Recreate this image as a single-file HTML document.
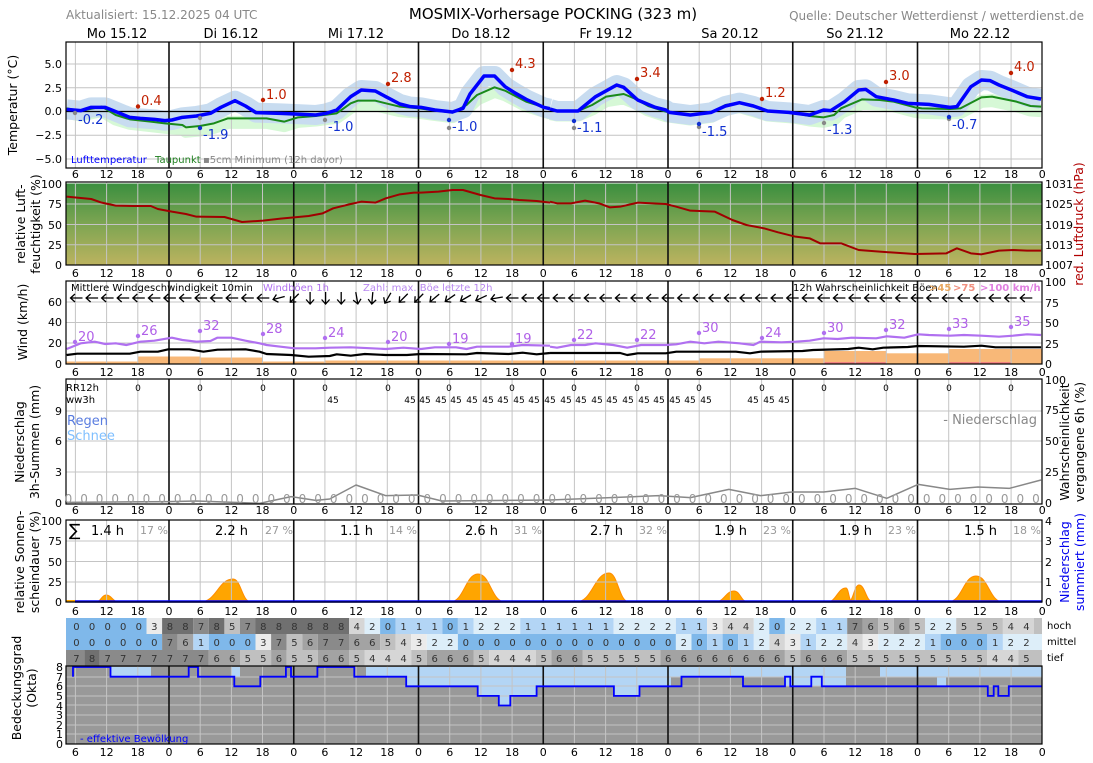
<!DOCTYPE html>
<html><head><meta charset="utf-8"><style>
html,body{margin:0;padding:0;background:#fff;}
svg{display:block;font-family:"DejaVu Sans","Liberation Sans",sans-serif;}
.t{font-size:11px;fill:#000;text-anchor:middle}
.l{font-size:11px;fill:#000;text-anchor:end}
.r{font-size:11px;fill:#000;text-anchor:start}
.ax{font-size:12.5px;fill:#000;text-anchor:middle}
.n{vector-effect:non-scaling-stroke;fill:none;stroke-linejoin:round}
</style></head><body>
<svg width="1093" height="763" viewBox="0 0 1093 763" xmlns="http://www.w3.org/2000/svg">
<defs>
<linearGradient id="hg" x1="0" y1="0" x2="0" y2="1"><stop offset="0" stop-color="#3b8f3f"/><stop offset="0.5" stop-color="#7ea552"/><stop offset="1" stop-color="#bcb35f"/></linearGradient>
<clipPath id="cT"><rect x="66" y="42" width="976" height="126"/></clipPath>
<path id="ar" d="M6,0L-6,0M-1.5,-4L-6,0L-1.5,4" fill="none" stroke="#000" stroke-width="1.3"/>
<g id="tk">
<text x="75.4">6</text><text x="106.6">12</text><text x="137.8">18</text><text x="169">0</text><text x="200.2">6</text><text x="231.4">12</text><text x="262.5">18</text><text x="293.7">0</text><text x="324.9">6</text><text x="356.1">12</text><text x="387.3">18</text><text x="418.5">0</text><text x="449.7">6</text><text x="480.9">12</text><text x="512.1">18</text><text x="543.3">0</text><text x="574.4">6</text><text x="605.6">12</text><text x="636.8">18</text><text x="668">0</text><text x="699.2">6</text><text x="730.4">12</text><text x="761.6">18</text><text x="792.8">0</text><text x="824">6</text><text x="855.2">12</text><text x="886.3">18</text><text x="917.5">0</text><text x="948.7">6</text><text x="979.9">12</text><text x="1011.1">18</text><text x="1042.3">0</text>
</g>
</defs>

<rect x="66" y="183.5" width="976" height="81.5" fill="url(#hg)"/>
<rect x="66" y="666" width="976" height="78" fill="#999"/>
<g fill="#b3d5f5">
<rect x="111" y="667" width="40" height="9.7"/>
<rect x="231" y="667" width="9" height="9.7"/>
<path d="M366,667V676.7H406.2V686.3H477.7V695.9H498.8V705.5H510.3V695.9H536.6V686.3H613.9V695.9H639.5V686.3H671V667Z"/>
<rect x="671" y="667" width="114" height="9.7"/>
<rect x="785" y="667" width="61" height="19.3"/>
<rect x="880" y="667" width="162" height="9.7"/>
<rect x="937" y="667" width="9" height="19.3"/>
</g>
<g clip-path="url(#cT)">
<g transform="translate(0,4)">
<path class="n" stroke="#d6f8d6" stroke-width="13" transform="scale(0.35075,0.33333)" d="M190,325L230,333L290,320L330,345L370,358L430,365L470,370L520,375L530,382L570,378L610,370L650,355L700,355L760,355L810,365L850,352L900,348L960,340L1000,310L1020,302L1070,302L1100,310L1140,320L1195,325L1230,330L1290,338L1330,315L1360,285L1410,262L1440,272L1500,305L1568,327"/>
<path class="n" stroke="#d6f8d6" stroke-width="13" transform="translate(543,0) scale(0.35075,0.33333)" d="M20,329L40,333L100,333L140,315L180,290L230,282L260,295L300,318L350,335L420,345L480,337L520,315L560,308L600,320L640,333L720,340L760,348L800,352L830,345L850,325L910,298L960,300L1000,305L1060,322L1080,325L1160,327L1190,325L1250,292L1280,290L1350,305L1390,318L1420,320"/>
</g>
<path class="n" stroke="#c8dcf0" stroke-width="20" transform="scale(0.35075,0.33333)" d="M190,328L230,332L260,322L300,322L330,335L370,352L400,355L440,358L470,362L490,360L520,352L560,348L600,340L630,322L670,302L700,318L730,338L800,340L840,342L900,345L930,340L960,330L1000,290L1030,270L1070,273L1100,290L1140,312L1170,320L1200,322L1240,330L1290,336L1320,325L1340,282L1380,228L1410,228L1440,260L1470,280L1500,298L1550,322L1568,326"/>
<path class="n" stroke="#c8dcf0" stroke-width="20" transform="translate(543,0) scale(0.35075,0.33333)" d="M20,327L40,333L100,333L150,290L210,255L230,262L270,300L320,322L350,330L360,337L420,345L480,337L520,318L560,308L600,318L640,333L700,337L760,345L800,330L820,332L860,305L900,270L920,268L950,290L1000,300L1040,310L1100,313L1160,322L1180,320L1220,260L1250,240L1275,242L1300,255L1340,272L1380,290L1420,297"/>
</g>
<g fill="#ffa500" stroke="#ff8c00" stroke-width="1">
<path d="M96,602C101,602 101.5,595 106,595C111.9,595 112.5,602 119,602Z"/>
<path d="M200,602C216.5,602 218.2,579 233,579C241.1,579 242,602 251,602Z"/>
<path d="M450,602C464,602 465.4,574 478,574C490.4,574 491.5,602 505,602Z"/>
<path d="M576,602C592.5,602 594.2,573 609,573C618,573 619,602 629,602Z"/>
<path d="M715,602C724.5,602 725.5,591 734,591C740.3,591 741,602 748,602Z"/>
<path d="M827,602C836.5,602 837.5,588 846,588C848.7,588 849,602 852,602Z"/>
<path d="M848,602C853.5,602 854,585 859,585C865.3,585 866,602 873,602Z"/>
<path d="M948,602C962,602 963.4,576 976,576C988.4,576 989.5,602 1003,602Z"/>
</g>
<g fill="#f8b878">
<rect x="66" y="361.5" width="72" height="2.5"/><rect x="138" y="356.5" width="62" height="7.5"/><rect x="200" y="357.5" width="63" height="6.5"/><rect x="263" y="361.5" width="62" height="2.5"/><rect x="325" y="360.5" width="374" height="3.5"/><rect x="699" y="358.3" width="125" height="5.7"/><rect x="824" y="351" width="62" height="13"/><rect x="886" y="353.3" width="63" height="10.7"/><rect x="949" y="349" width="93" height="15"/>
</g>
<rect x="824" y="362" width="62" height="2" fill="#f08080"/><rect x="949" y="362" width="62" height="2" fill="#f08080"/>

<path stroke="#c4c4c4" stroke-width="1" fill="none" d="M75.4,42V744M106.6,42V744M137.8,42V744M200.2,42V744M231.4,42V744M262.5,42V744M324.9,42V744M356.1,42V744M387.3,42V744M449.7,42V744M480.9,42V744M512.1,42V744M574.4,42V744M605.6,42V744M636.8,42V744M699.2,42V744M730.4,42V744M761.6,42V744M824,42V744M855.2,42V744M886.3,42V744M948.7,42V744M979.9,42V744M1011.1,42V744
M66,64H1042M66,87.75H1042M66,135.25H1042M66,159H1042M66,204H1042M66,224.5H1042M66,244.75H1042M66,302H1042M66,322.5H1042M66,343H1042M66,411H1042M66,441H1042M66,472H1042M66,541H1042M66,561.5H1042M66,582H1042M66,677H1042M66,686H1042M66,696H1042M66,705H1042M66,715H1042M66,725H1042M66,734H1042"/>
<path stroke="#111" stroke-width="1.6" fill="none" d="M169,42V744M293.75,42V744M418.5,42V744M543.25,42V744M668,42V744M792.75,42V744M917.5,42V744"/>
<path stroke="#000" stroke-width="1.2" d="M66,111.5H1042"/>
<g fill="#fff">
<rect x="60" y="168.6" width="990" height="13.2"/><rect x="60" y="265.6" width="990" height="15"/><rect x="60" y="364.6" width="990" height="14"/><rect x="60" y="504.6" width="990" height="15"/><rect x="60" y="602.6" width="990" height="15.4"/>
</g>
<g>
<rect x="66" y="618" width="80.6" height="16.2" fill="#7fb8ea"/><rect x="146.6" y="618" width="15.5" height="16.2" fill="#ebebeb"/><rect x="162.1" y="618" width="31.2" height="16.2" fill="#707070"/><rect x="193.3" y="618" width="15.5" height="16.2" fill="#8a8a8a"/><rect x="208.8" y="618" width="15.6" height="16.2" fill="#707070"/><rect x="224.4" y="618" width="15.6" height="16.2" fill="#c0c0c0"/><rect x="240" y="618" width="15.5" height="16.2" fill="#8a8a8a"/><rect x="255.5" y="618" width="93.5" height="16.2" fill="#707070"/><rect x="349" y="618" width="15.5" height="16.2" fill="#d6d6d6"/><rect x="364.5" y="618" width="15.6" height="16.2" fill="#ddeef9"/><rect x="380.1" y="618" width="15.6" height="16.2" fill="#7fb8ea"/><rect x="395.7" y="618" width="46.7" height="16.2" fill="#b3d5f5"/><rect x="442.4" y="618" width="15.5" height="16.2" fill="#7fb8ea"/><rect x="457.9" y="618" width="15.6" height="16.2" fill="#b3d5f5"/><rect x="473.5" y="618" width="46.7" height="16.2" fill="#ddeef9"/><rect x="520.2" y="618" width="93.4" height="16.2" fill="#b3d5f5"/><rect x="613.6" y="618" width="62.3" height="16.2" fill="#ddeef9"/><rect x="675.9" y="618" width="31.2" height="16.2" fill="#b3d5f5"/><rect x="707.1" y="618" width="15.5" height="16.2" fill="#ebebeb"/><rect x="722.6" y="618" width="31.2" height="16.2" fill="#d6d6d6"/><rect x="753.8" y="618" width="15.5" height="16.2" fill="#ddeef9"/><rect x="769.3" y="618" width="15.6" height="16.2" fill="#7fb8ea"/><rect x="784.9" y="618" width="31.2" height="16.2" fill="#ddeef9"/><rect x="816.1" y="618" width="31.1" height="16.2" fill="#b3d5f5"/><rect x="847.2" y="618" width="15.6" height="16.2" fill="#8a8a8a"/><rect x="862.8" y="618" width="15.5" height="16.2" fill="#a3a3a3"/><rect x="878.3" y="618" width="15.6" height="16.2" fill="#c0c0c0"/><rect x="893.9" y="618" width="15.6" height="16.2" fill="#a3a3a3"/><rect x="909.5" y="618" width="15.5" height="16.2" fill="#c0c0c0"/><rect x="925" y="618" width="31.2" height="16.2" fill="#ddeef9"/><rect x="956.2" y="618" width="46.7" height="16.2" fill="#c0c0c0"/><rect x="1002.9" y="618" width="31.1" height="16.2" fill="#d6d6d6"/><rect x="1034" y="618" width="8" height="16.2" fill="#c0c0c0"/>

<rect x="66" y="634" width="96.1" height="16.2" fill="#7fb8ea"/><rect x="162.1" y="634" width="15.6" height="16.2" fill="#8a8a8a"/><rect x="177.7" y="634" width="15.6" height="16.2" fill="#a3a3a3"/><rect x="193.3" y="634" width="15.5" height="16.2" fill="#b3d5f5"/><rect x="208.8" y="634" width="46.7" height="16.2" fill="#7fb8ea"/><rect x="255.5" y="634" width="15.6" height="16.2" fill="#ebebeb"/><rect x="271.1" y="634" width="15.6" height="16.2" fill="#8a8a8a"/><rect x="286.7" y="634" width="15.6" height="16.2" fill="#c0c0c0"/><rect x="302.3" y="634" width="15.5" height="16.2" fill="#a3a3a3"/><rect x="317.8" y="634" width="31.2" height="16.2" fill="#8a8a8a"/><rect x="349" y="634" width="31.1" height="16.2" fill="#a3a3a3"/><rect x="380.1" y="634" width="15.6" height="16.2" fill="#c0c0c0"/><rect x="395.7" y="634" width="15.5" height="16.2" fill="#d6d6d6"/><rect x="411.2" y="634" width="15.6" height="16.2" fill="#ebebeb"/><rect x="426.8" y="634" width="31.1" height="16.2" fill="#ddeef9"/><rect x="457.9" y="634" width="218" height="16.2" fill="#7fb8ea"/><rect x="675.9" y="634" width="15.6" height="16.2" fill="#ddeef9"/><rect x="691.5" y="634" width="15.6" height="16.2" fill="#7fb8ea"/><rect x="707.1" y="634" width="15.5" height="16.2" fill="#b3d5f5"/><rect x="722.6" y="634" width="15.6" height="16.2" fill="#7fb8ea"/><rect x="738.2" y="634" width="15.6" height="16.2" fill="#b3d5f5"/><rect x="753.8" y="634" width="15.5" height="16.2" fill="#ddeef9"/><rect x="769.3" y="634" width="15.6" height="16.2" fill="#d6d6d6"/><rect x="784.9" y="634" width="15.6" height="16.2" fill="#ebebeb"/><rect x="800.5" y="634" width="15.6" height="16.2" fill="#b3d5f5"/><rect x="816.1" y="634" width="31.1" height="16.2" fill="#ddeef9"/><rect x="847.2" y="634" width="15.6" height="16.2" fill="#d6d6d6"/><rect x="862.8" y="634" width="15.5" height="16.2" fill="#ebebeb"/><rect x="878.3" y="634" width="46.7" height="16.2" fill="#ddeef9"/><rect x="925" y="634" width="15.6" height="16.2" fill="#b3d5f5"/><rect x="940.6" y="634" width="46.7" height="16.2" fill="#7fb8ea"/><rect x="987.3" y="634" width="15.6" height="16.2" fill="#b3d5f5"/><rect x="1002.9" y="634" width="39.1" height="16.2" fill="#ddeef9"/>

<rect x="66" y="650" width="18.3" height="16" fill="#8a8a8a"/><rect x="84.3" y="650" width="15.5" height="16" fill="#707070"/><rect x="99.8" y="650" width="109" height="16" fill="#8a8a8a"/><rect x="208.8" y="650" width="31.2" height="16" fill="#a3a3a3"/><rect x="240" y="650" width="31.1" height="16" fill="#c0c0c0"/><rect x="271.1" y="650" width="15.6" height="16" fill="#a3a3a3"/><rect x="286.7" y="650" width="31.1" height="16" fill="#c0c0c0"/><rect x="317.8" y="650" width="31.2" height="16" fill="#a3a3a3"/><rect x="349" y="650" width="15.5" height="16" fill="#c0c0c0"/><rect x="364.5" y="650" width="46.7" height="16" fill="#d6d6d6"/><rect x="411.2" y="650" width="15.6" height="16" fill="#c0c0c0"/><rect x="426.8" y="650" width="46.7" height="16" fill="#a3a3a3"/><rect x="473.5" y="650" width="15.6" height="16" fill="#c0c0c0"/><rect x="489.1" y="650" width="46.7" height="16" fill="#d6d6d6"/><rect x="535.8" y="650" width="15.6" height="16" fill="#c0c0c0"/><rect x="551.4" y="650" width="31.1" height="16" fill="#a3a3a3"/><rect x="582.5" y="650" width="77.9" height="16" fill="#c0c0c0"/><rect x="660.4" y="650" width="124.5" height="16" fill="#a3a3a3"/><rect x="784.9" y="650" width="15.6" height="16" fill="#c0c0c0"/><rect x="800.5" y="650" width="46.7" height="16" fill="#a3a3a3"/><rect x="847.2" y="650" width="140.1" height="16" fill="#c0c0c0"/><rect x="987.3" y="650" width="31.2" height="16" fill="#d6d6d6"/><rect x="1018.5" y="650" width="23.5" height="16" fill="#c0c0c0"/>
</g>
<path stroke="#000" stroke-width="1" d="M66,666H1042"/>

<g clip-path="url(#cT)">
<path class="n" stroke="#1a8a1a" stroke-width="2" transform="scale(0.35075,0.33333)" d="M190,325L230,333L290,320L330,345L370,358L430,365L470,370L520,375L530,382L570,378L610,370L650,355L700,355L760,355L810,365L850,352L900,348L960,340L1000,310L1020,302L1070,302L1100,310L1140,320L1195,325L1230,330L1290,338L1330,315L1360,285L1410,262L1440,272L1500,305L1568,327"/>
<path class="n" stroke="#1a8a1a" stroke-width="2" transform="translate(543,0) scale(0.35075,0.33333)" d="M20,329L40,333L100,333L140,315L180,290L230,282L260,295L300,318L350,335L420,345L480,337L520,315L560,308L600,320L640,333L720,340L760,348L800,352L830,345L850,325L910,298L960,300L1000,305L1060,322L1080,325L1160,327L1190,325L1250,292L1280,290L1350,305L1390,318L1420,320"/>
<path class="n" stroke="#0000ff" stroke-width="3.5" transform="scale(0.35075,0.33333)" d="M190,328L230,332L260,322L300,322L330,335L370,352L400,355L440,358L470,362L490,360L520,352L560,348L600,340L630,322L670,302L700,318L730,338L800,340L840,342L900,345L930,340L960,330L1000,290L1030,270L1070,273L1100,290L1140,312L1170,320L1200,322L1240,330L1290,336L1320,325L1340,282L1380,228L1410,228L1440,260L1470,280L1500,298L1550,322L1568,326"/>
<path class="n" stroke="#0000ff" stroke-width="3.5" transform="translate(543,0) scale(0.35075,0.33333)" d="M20,327L40,333L100,333L150,290L210,255L230,262L270,300L320,322L350,330L360,337L420,345L480,337L520,318L560,308L600,318L640,333L700,337L760,345L800,330L820,332L860,305L900,270L920,268L950,290L1000,300L1040,310L1100,313L1160,322L1180,320L1220,260L1250,240L1275,242L1300,255L1340,272L1380,290L1420,297"/>
</g>
<g fill="#c02000"><circle cx="138" cy="106.5" r="2.2"/><circle cx="263" cy="100" r="2.2"/><circle cx="388" cy="84" r="2.2"/><circle cx="512" cy="70" r="2.2"/><circle cx="637" cy="79" r="2.2"/><circle cx="762" cy="99" r="2.2"/><circle cx="886" cy="82" r="2.2"/><circle cx="1011" cy="73" r="2.2"/></g>
<g fill="#888"><circle cx="75" cy="113" r="2.2"/><circle cx="200" cy="118" r="2.2"/><circle cx="325" cy="120" r="2.2"/><circle cx="449" cy="128" r="2.2"/><circle cx="574" cy="128" r="2.2"/><circle cx="699" cy="127" r="2.2"/><circle cx="824" cy="123" r="2.2"/><circle cx="949" cy="119" r="2.2"/></g>
<g fill="#1030d0"><circle cx="200" cy="128" r="2.2"/><circle cx="449" cy="120" r="2.2"/><circle cx="574" cy="121" r="2.2"/><circle cx="699" cy="124" r="2.2"/><circle cx="949" cy="117" r="2.2"/></g>
<path class="n" stroke="#a00000" stroke-width="2" transform="scale(0.35075,0.33333)" d="M190,590L260,597L290,608L330,617L380,618L430,618L450,627L490,635L530,642L560,650L640,651L690,666L750,662L800,656L880,648L920,640L950,625L1000,612L1030,605L1070,608L1100,595L1140,583L1180,578L1200,578L1250,575L1290,570L1320,570L1370,585L1410,595L1450,597L1480,600L1530,603L1568,608"/>
<path class="n" stroke="#a00000" stroke-width="2" transform="translate(543,0) scale(0.35075,0.33333)" d="M20,605L40,610L80,610L120,602L160,610L190,622L220,620L270,608L350,612L380,620L420,632L490,635L540,660L580,675L630,685L670,697L720,710L760,715L790,730L850,730L900,750L960,755L1060,762L1150,760L1180,745L1220,760L1250,763L1300,752L1340,750L1380,752L1420,752"/>
<path class="n" stroke="#b070f0" stroke-width="2.2" transform="translate(0,275) scale(0.35075,0.33333)" d="M190,222L230,205L270,200L300,207L330,205L360,210L400,200L440,197L490,188L520,195L560,200L600,198L620,188L660,188L700,197L740,205L760,210L800,215L840,220L900,220L940,218L1000,217L1060,220L1100,222L1150,218L1200,222L1240,217L1300,217L1330,222L1360,215L1450,215L1490,210L1568,212"/>
<path class="n" stroke="#b070f0" stroke-width="2.2" transform="translate(543,275) scale(0.35075,0.33333)" d="M20,215L40,218L80,210L120,210L150,205L200,210L240,218L280,210L350,210L380,208L420,200L460,205L500,200L560,205L600,210L620,200L680,202L720,200L760,197L800,190L840,192L880,188L950,190L980,184L1030,188L1070,178L1100,180L1160,182L1200,180L1250,182L1300,185L1340,182L1380,178L1420,180"/>
<path class="n" stroke="#000" stroke-width="2.2" transform="translate(0,275) scale(0.35075,0.33333)" d="M190,240L220,236L370,236L400,230L450,230L480,223L540,223L580,230L620,224L700,223L740,230L760,237L830,240L880,245L940,243L960,238L1000,242L1040,237L1100,240L1160,240L1200,237L1330,238L1360,234L1450,237L1490,233L1530,238L1568,234"/>
<path class="n" stroke="#000" stroke-width="2.2" transform="translate(543,275) scale(0.35075,0.33333)" d="M20,234L220,234L240,240L270,235L350,235L380,230L550,230L590,235L620,230L740,228L770,225L870,222L900,218L940,223L970,218L1040,216L1070,213L1200,215L1250,212L1290,217L1420,217"/>
<g fill="#b070f0"><circle cx="75" cy="342" r="2.2"/><circle cx="138" cy="336" r="2.2"/><circle cx="200" cy="331" r="2.2"/><circle cx="263" cy="334" r="2.2"/><circle cx="325" cy="338" r="2.2"/><circle cx="388" cy="342" r="2.2"/><circle cx="449" cy="344" r="2.2"/><circle cx="512" cy="344" r="2.2"/><circle cx="574" cy="340" r="2.2"/><circle cx="637" cy="340" r="2.2"/><circle cx="699" cy="333" r="2.2"/><circle cx="762" cy="338" r="2.2"/><circle cx="824" cy="333" r="2.2"/><circle cx="886" cy="330" r="2.2"/><circle cx="949" cy="329" r="2.2"/><circle cx="1011" cy="327" r="2.2"/></g>
<g>
<use href="#ar" x="76.5" y="298"/><use href="#ar" x="92.1" y="298"/><use href="#ar" x="107.6" y="298"/><use href="#ar" x="123.2" y="298"/><use href="#ar" x="138.8" y="298"/><use href="#ar" x="154.4" y="298"/><use href="#ar" x="169.9" y="298"/><use href="#ar" x="185.5" y="298"/><use href="#ar" x="201.1" y="298"/><use href="#ar" x="216.6" y="298"/><use href="#ar" x="232.2" y="298"/><use href="#ar" x="247.8" y="298"/><use href="#ar" x="263.3" y="298"/>
<use href="#ar" transform="translate(278.9,298) rotate(-15)"/><use href="#ar" transform="translate(294.5,298) rotate(-45)"/><use href="#ar" transform="translate(310.1,298) rotate(-90)"/><use href="#ar" transform="translate(325.6,298) rotate(-90)"/><use href="#ar" transform="translate(341.2,298) rotate(-90)"/><use href="#ar" transform="translate(356.8,298) rotate(-100)"/><use href="#ar" transform="translate(372.3,298) rotate(-85)"/><use href="#ar" transform="translate(387.9,298) rotate(-60)"/><use href="#ar" transform="translate(403.5,298) rotate(-45)"/><use href="#ar" transform="translate(419,298) rotate(-45)"/><use href="#ar" transform="translate(434.6,298) rotate(-40)"/><use href="#ar" transform="translate(450.2,298) rotate(-35)"/><use href="#ar" transform="translate(465.7,298) rotate(-30)"/><use href="#ar" transform="translate(481.3,298) rotate(-25)"/><use href="#ar" transform="translate(496.9,298) rotate(-10)"/>
<use href="#ar" x="512.5" y="298"/><use href="#ar" x="528" y="298"/><use href="#ar" x="543.6" y="298"/><use href="#ar" x="559.2" y="298"/><use href="#ar" x="574.7" y="298"/><use href="#ar" x="590.3" y="298"/><use href="#ar" x="605.9" y="298"/><use href="#ar" x="621.4" y="298"/><use href="#ar" x="637" y="298"/><use href="#ar" x="652.6" y="298"/><use href="#ar" x="668.2" y="298"/><use href="#ar" x="683.7" y="298"/><use href="#ar" x="699.3" y="298"/><use href="#ar" x="714.9" y="298"/><use href="#ar" x="730.4" y="298"/><use href="#ar" x="746" y="298"/><use href="#ar" x="761.6" y="298"/><use href="#ar" x="777.1" y="298"/><use href="#ar" x="792.7" y="298"/><use href="#ar" x="808.3" y="298"/><use href="#ar" x="823.9" y="298"/><use href="#ar" x="839.4" y="298"/><use href="#ar" x="855" y="298"/><use href="#ar" x="870.6" y="298"/><use href="#ar" x="886.1" y="298"/><use href="#ar" x="901.7" y="298"/><use href="#ar" x="917.3" y="298"/><use href="#ar" x="932.8" y="298"/><use href="#ar" x="948.4" y="298"/><use href="#ar" x="964" y="298"/><use href="#ar" x="979.6" y="298"/><use href="#ar" x="995.1" y="298"/><use href="#ar" x="1010.7" y="298"/><use href="#ar" x="1026.3" y="298"/>
</g>
<path class="n" stroke="#888" stroke-width="1.5" transform="translate(0,275) scale(0.35075,0.33333)" d="M190,682L480,680L560,678L740,685L830,665L900,676L940,672L1015,630L1100,662L1190,660L1260,678L1568,675"/>
<path class="n" stroke="#888" stroke-width="1.5" transform="translate(543,275) scale(0.35075,0.33333)" d="M20,675L330,662L420,668L530,643L620,662L710,651L800,651L890,640L980,670L1070,628L1160,643L1240,636L1330,640L1420,615"/>
<path stroke="#0000ff" stroke-width="2.5" d="M75,601.5H1042"/>
<rect x="66" y="600" width="9" height="2" fill="#ffa500"/>
<path fill="none" stroke="#0000ff" stroke-width="1.8" d="M73,676.7V667H110.5V676.7H188.7V667H198V676.7H234.3V686.3H260.3V676.7H285.9V667H291V676.7H317.4V667H354.3V676.7H406.2V686.3H477.7V695.9H498.8V705.5H510.3V695.9H536.6V686.3H613.9V695.9H639.5V686.3H681.5V676.7H743V686.3H785V676.7H790.3V686.3H811.3V676.7H821.8V686.3H987.8V695.9H993.7V686.3H998.3V695.9H1008.8V686.3H1042"/>
<g fill="none" stroke="#000" stroke-width="1.2">
<rect x="66" y="42" width="976" height="126"/><rect x="66" y="182" width="976" height="83"/><rect x="66" y="281" width="976" height="83"/><rect x="66" y="379" width="976" height="125"/><rect x="66" y="520" width="976" height="82"/><rect x="66" y="666" width="976" height="78"/>
</g>

<text x="66" y="19" style="font-size:12px;fill:#888">Aktualisiert: 15.12.2025 04 UTC</text>
<text x="553" y="19" style="font-size:15px;text-anchor:middle">MOSMIX-Vorhersage POCKING (323 m)</text>
<text x="1084" y="20" style="font-size:12px;fill:#888;text-anchor:end">Quelle: Deutscher Wetterdienst / wetterdienst.de</text>
<g class="ax" style="font-size:13px">
<text x="117" y="38">Mo 15.12</text><text x="231" y="38">Di 16.12</text><text x="356" y="38">Mi 17.12</text><text x="481" y="38">Do 18.12</text><text x="606" y="38">Fr 19.12</text><text x="730" y="38">Sa 20.12</text><text x="855" y="38">So 21.12</text><text x="980" y="38">Mo 22.12</text>
</g>
<g class="t"><use href="#tk" y="178"/><use href="#tk" y="277"/><use href="#tk" y="376"/><use href="#tk" y="514"/><use href="#tk" y="615"/><use href="#tk" y="756"/></g>
<g class="l">
<text x="62" y="68">5.0</text><text x="62" y="92">2.5</text><text x="62" y="115">0.0</text><text x="62" y="139">−2.5</text><text x="62" y="163">−5.0</text>
<text x="62" y="188">100</text><text x="62" y="208">75</text><text x="62" y="229">50</text><text x="62" y="249">25</text><text x="62" y="269">0</text>
<text x="62" y="306">60</text><text x="62" y="326">40</text><text x="62" y="347">20</text><text x="62" y="368">0</text>
<text x="62" y="415">9</text><text x="62" y="445">6</text><text x="62" y="476">3</text><text x="62" y="507">0</text>
<text x="62" y="525">100</text><text x="62" y="545">75</text><text x="62" y="566">50</text><text x="62" y="586">25</text><text x="62" y="606">0</text>
<text x="63" y="671">8</text><text x="63" y="681">7</text><text x="63" y="690">6</text><text x="63" y="700">5</text><text x="63" y="710">4</text><text x="63" y="719">3</text><text x="63" y="729">2</text><text x="63" y="738">1</text><text x="63" y="748">0</text>
</g>
<g class="r">
<text x="1045" y="188">1031</text><text x="1045" y="208">1025</text><text x="1045" y="229">1019</text><text x="1045" y="249">1013</text><text x="1045" y="269">1007</text>
<text x="1045" y="286">100</text><text x="1045" y="307">75</text><text x="1045" y="327">50</text><text x="1045" y="348">25</text><text x="1045" y="368">0</text>
<text x="1045" y="384">100</text><text x="1045" y="414">75</text><text x="1045" y="445">50</text><text x="1045" y="476">25</text><text x="1045" y="507">0</text>
<text x="1045" y="525">4</text><text x="1045" y="545">3</text><text x="1045" y="566">2</text><text x="1045" y="586">1</text><text x="1045" y="606">0</text>
<text x="1047" y="629" style="font-size:10px">hoch</text><text x="1047" y="645" style="font-size:10px">mittel</text><text x="1047" y="661" style="font-size:10px">tief</text>
</g>
<g class="ax">
<text transform="translate(17,105) rotate(-90)">Temperatur (°C)</text>
<text transform="translate(25,224) rotate(-90)">relative Luft-</text>
<text transform="translate(40,224) rotate(-90)">feuchtigkeit (%)</text>
<text transform="translate(27,322) rotate(-90)">Wind (km/h)</text>
<text transform="translate(24,442) rotate(-90)">Niederschlag</text>
<text transform="translate(39,442) rotate(-90)">3h-Summen (mm)</text>
<text transform="translate(24,562) rotate(-90)">relative Sonnen-</text>
<text transform="translate(39,562) rotate(-90)">scheindauer (%)</text>
<text transform="translate(21,688) rotate(-90)">Bedeckungsgrad</text>
<text transform="translate(36,688) rotate(-90)">(Okta)</text>
<text transform="translate(1083,224) rotate(-90)" style="fill:#b00000">red. Luftdruck (hPa)</text>
<text transform="translate(1069,442) rotate(-90)">Wahrscheinlichkeit</text>
<text transform="translate(1084,442) rotate(-90)">vergangene 6h (%)</text>
<text transform="translate(1069,562) rotate(-90)" style="fill:#0000ee">Niederschlag</text>
<text transform="translate(1084,562) rotate(-90)" style="fill:#0000ee">summiert (mm)</text>
</g>
<g style="font-size:13px;fill:#c02000">
<text x="141" y="105">0.4</text><text x="266" y="99">1.0</text><text x="391" y="82">2.8</text><text x="515" y="68">4.3</text><text x="640" y="77">3.4</text><text x="765" y="97">1.2</text><text x="889" y="80">3.0</text><text x="1014" y="71">4.0</text>
</g>
<g style="font-size:13px;fill:#1030d0">
<text x="78" y="124">-0.2</text><text x="203" y="139">-1.9</text><text x="328" y="131">-1.0</text><text x="452" y="131">-1.0</text><text x="577" y="132">-1.1</text><text x="702" y="136">-1.5</text><text x="827" y="134">-1.3</text><text x="952" y="129">-0.7</text>
</g>
<g style="font-size:10px">
<text x="71" y="163" fill="#0000ff">Lufttemperatur</text><text x="155" y="163" fill="#208020">Taupunkt</text><text x="203" y="163" fill="#888">▪5cm Minimum (12h davor)</text>
</g>
<g style="font-size:10px">
<text x="71" y="291">Mittlere Windgeschwindigkeit 10min</text>
<text x="263" y="291" fill="#b070f0">Windböen 1h</text>
<text x="363" y="291" fill="#b888f0">Zahl: max. Böe letzte 12h</text>
<text x="793" y="291">12h Wahrscheinlichkeit Böen</text>
<text x="929" y="291" fill="#e8a860" font-weight="bold">&gt;45</text>
<text x="953" y="291" fill="#f09080" font-weight="bold">&gt;75</text>
<text x="980" y="291" fill="#e080e0" font-weight="bold">&gt;100 km/h</text>
</g>
<g style="font-size:13px;fill:#b060e8">
<text x="78" y="341">20</text><text x="141" y="335">26</text><text x="203" y="330">32</text><text x="266" y="333">28</text><text x="328" y="337">24</text><text x="391" y="341">20</text><text x="452" y="343">19</text><text x="515" y="343">19</text>
<text x="577" y="339">22</text><text x="640" y="339">22</text><text x="702" y="332">30</text><text x="765" y="337">24</text><text x="827" y="332">30</text><text x="889" y="329">32</text><text x="952" y="328">33</text><text x="1014" y="326">35</text>
</g>
<g style="font-size:10px">
<text x="66" y="391">RR12h</text><text x="66" y="403">ww3h</text>
</g>
<g style="font-size:9px;text-anchor:middle">
<text x="138" y="391">0</text><text x="200" y="391">0</text><text x="263" y="391">0</text><text x="325" y="391">0</text><text x="388" y="391">0</text><text x="449" y="391">0</text><text x="512" y="391">0</text><text x="574" y="391">0</text><text x="637" y="391">0</text><text x="699" y="391">0</text><text x="762" y="391">0</text><text x="824" y="391">0</text><text x="886" y="391">0</text><text x="949" y="391">0</text><text x="1011" y="391">0</text>
<text x="333" y="403">45</text><text x="410" y="403">45</text><text x="425" y="403">45</text><text x="441" y="403">45</text><text x="456" y="403">45</text><text x="472" y="403">45</text><text x="488" y="403">45</text><text x="503" y="403">45</text><text x="519" y="403">45</text><text x="534" y="403">45</text><text x="550" y="403">45</text><text x="566" y="403">45</text><text x="581" y="403">45</text><text x="597" y="403">45</text><text x="612" y="403">45</text><text x="628" y="403">45</text><text x="644" y="403">45</text><text x="659" y="403">45</text><text x="675" y="403">45</text><text x="690" y="403">45</text><text x="706" y="403">45</text><text x="753" y="403">45</text><text x="769" y="403">45</text><text x="784" y="403">45</text>
</g>
<text x="67" y="425" style="font-size:13px;fill:#5a7de0">Regen</text>
<text x="67" y="440" style="font-size:13px;fill:#7fbfff">Schnee</text>
<text x="1037" y="424" style="font-size:13px;fill:#888;text-anchor:end">- Niederschlag</text>
<text x="64.6" y="503" style="font-size:12px;fill:#999;letter-spacing:7.97px">000000000000000000000000000000000000000000000000000000000000000</text>
<text x="69" y="536" style="font-size:17px">∑</text>
<g style="font-size:13px">
<text x="91" y="535">1.4 h</text><text x="215" y="535">2.2 h</text><text x="340" y="535">1.1 h</text><text x="465" y="535">2.6 h</text><text x="590" y="535">2.7 h</text><text x="714" y="535">1.9 h</text><text x="839" y="535">1.9 h</text><text x="964" y="535">1.5 h</text>
</g>
<g style="font-size:11px;fill:#999">
<text x="140" y="534">17 %</text><text x="265" y="534">27 %</text><text x="389" y="534">14 %</text><text x="514" y="534">31 %</text><text x="639" y="534">32 %</text><text x="763" y="534">23 %</text><text x="888" y="534">23 %</text><text x="1013" y="534">18 %</text>
</g>
<g style="font-size:10px;fill:#333;letter-spacing:9.21px">
<text x="73.3" y="630">00000388785788888842011101222111111222211344202211765652255544</text>
<text x="73.3" y="646">00000076100037567766543220000000000000020101243122432221000122</text>
<text x="73.3" y="662">78777777766556556654445666544456655555666666665666555555555445</text>
</g>
<text x="80" y="742" style="font-size:10px;fill:#0000ff">- effektive Bewölkung</text>
</svg>
</body></html>
